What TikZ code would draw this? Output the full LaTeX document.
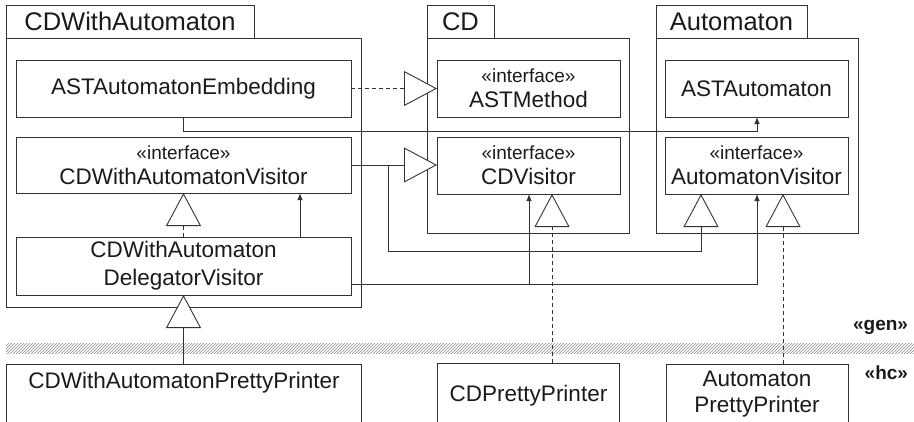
\documentclass[tikz,border=0pt]{standalone}
\usepackage{fontspec}
\setmainfont{Liberation Sans}
\usetikzlibrary{arrows.meta,patterns}
\definecolor{ln}{HTML}{333333}
\definecolor{hatchc}{HTML}{8A8A8A}
\definecolor{txt}{HTML}{1A1A1A}
\newcommand{\stereo}{{\fontsize{19}{22}\selectfont «interface»}}
\begin{document}
\begin{tikzpicture}[x=1pt,y=-1pt,
  every node/.style={inner sep=0pt, outer sep=0pt, text=txt},
  box/.style={draw=ln, line width=0.9pt, rectangle},
  cls/.style={box, align=center, font=\fontsize{22.5}{26}\selectfont},
  tabbox/.style={box, font=\fontsize{25.5}{28}\selectfont},
  plain/.style={align=center, font=\fontsize{22.5}{26}\selectfont},
  conn/.style={draw=ln, line width=0.9pt},
  inh/.style={conn, -{Triangle[length=33pt,width=35pt,fill=white]}},
  impl/.style={conn, dash pattern=on 4pt off 3pt, -{Triangle[length=33pt,width=35pt,fill=white]}},
  dep/.style={conn, -{Latex[length=7pt,width=5.5pt]}},
  layer/.style={font=\bfseries\fontsize{19}{22}\selectfont, anchor=east}
]
\useasboundingbox (0,0) rectangle (914,421);
\clip (0,0) rectangle (914,421);

% hatched layer separator
\fill[pattern=north east lines, pattern color=hatchc] (6,343) rectangle (914,353);

% packages
\node[box, minimum width=355pt, minimum height=269pt] (pkgA) at (183.5,172.5) {};
\node[tabbox, minimum width=248pt, minimum height=33pt] (tabA) at (130,21.5) {CDWithAutomaton};
\node[box, minimum width=202pt, minimum height=195pt] (pkgB) at (528,135.5) {};
\node[tabbox, minimum width=67pt, minimum height=33pt] (tabB) at (460.5,21.5) {CD};
\node[box, minimum width=202pt, minimum height=195pt] (pkgC) at (757,135.5) {};
\node[tabbox, minimum width=151pt, minimum height=33pt] (tabC) at (731.5,21.5) {Automaton};

% classes
\node[cls, minimum width=335pt, minimum height=57pt] (emb) at (183.5,88.5) {ASTAutomatonEmbedding};
\node[cls, minimum width=335pt, minimum height=56pt] (cdwav) at (183.5,165) {\stereo\\[-1pt]CDWithAutomatonVisitor};
\node[cls, minimum width=335pt, minimum height=58pt] (deleg) at (183.5,266) {CDWithAutomaton\\[2pt]DelegatorVisitor};
\node[cls, minimum width=183pt, minimum height=57pt] (astm) at (528.5,88.5) {\stereo\\[-1pt]ASTMethod};
\node[cls, minimum width=183pt, minimum height=57pt] (cdv) at (528.5,165.5) {\stereo\\[-1pt]CDVisitor};
\node[cls, minimum width=183pt, minimum height=57pt] (asta) at (756.5,88.5) {ASTAutomaton};
\node[cls, minimum width=183pt, minimum height=57pt] (av) at (756.5,165.5) {\stereo\\[-1pt]AutomatonVisitor};

% hand-coded classes (boxes run past the lower edge)
\node[box, anchor=north, minimum width=355pt, minimum height=80pt] (cdwapp) at (183.5,364) {};
\node[plain, anchor=base] (cdwappT) at (184,388) {CDWithAutomatonPrettyPrinter};
\node[box, anchor=north, minimum width=182pt, minimum height=80pt] (cdpp) at (528,363) {};
\node[plain, anchor=base] (cdppT) at (528.5,401) {CDPrettyPrinter};
\node[box, anchor=north, minimum width=182pt, minimum height=80pt] (app) at (757,364) {};
\node[plain] (appT) at (757,394) {Automaton\\PrettyPrinter};

% layer labels
\node[layer] (gen) at (908,327) {«gen»};
\node[layer] (hc) at (908,373) {«hc»};

% connectors
\coordinate (j1) at (388,251);
\coordinate (j2) at (183.5,131);
\draw[impl] (emb.east) -- (astm.west);
\draw[inh] (cdwav.east) -- (cdv.west |- cdwav.east);
\draw[inh] (cdwav.east) -| (j1) -| ([xshift=-55.5pt]av.south);
\draw[dep] (emb.south) -- (j2) -| ([xshift=0.5pt]asta.south);
\draw[dep] ([yshift=-18pt]deleg.east) -| ([xshift=0.5pt]cdv.south);
\draw[dep] ([yshift=-18pt]deleg.east) -| ([xshift=0.5pt]av.south);
\draw[dep] ([xshift=116.5pt]deleg.north) -- ([xshift=116.5pt]cdwav.south);
\draw[impl] (deleg.north) -- (cdwav.south);
\draw[inh] (cdwapp.north) -- (deleg.south);
\draw[impl] ([xshift=24pt]cdpp.north) -- ([xshift=23.5pt]cdv.south);
\draw[impl] ([xshift=26pt]app.north) -- ([xshift=26.5pt]av.south);
\end{tikzpicture}
\end{document}
